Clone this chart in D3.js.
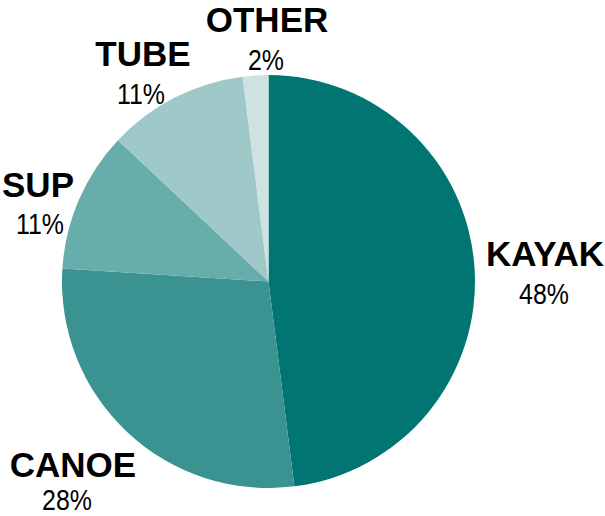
<!DOCTYPE html>
<html>
<head>
<meta charset="utf-8">
<script src="https://cdn.jsdelivr.net/npm/d3@7"></script>
<style>
  html, body { margin: 0; padding: 0; background: #fff; }
  svg { display: block; }
</style>
</head>
<body>
<svg></svg>
<script>
const width = 605
const height = 516

// data
const categories = ["KAYAK", "CANOE", "SUP", "TUBE", "OTHER"]
const shares = [48, 28, 11, 11, 2]
const colors = ["#007571", "#3a9391", "#67adab", "#9fc8c8", "#cde3e2"]

// label anchors (name baseline), percent line sits below
const labelAt = {
  KAYAK: { x: 545, y: 266, px: 544, py: 304 },
  CANOE: { x: 73, y: 477, px: 67, py: 510 },
  SUP: { x: 38, y: 197, px: 40, py: 234 },
  TUBE: { x: 143, y: 66, px: 141, py: 104 },
  OTHER: { x: 267, y: 32, px: 266, py: 70 }
}

const cx = 268.5, cy = 281.5, radius = 206.5
const narrow = 0.86

const svg = d3.select('svg')
  .attr('width', width)
  .attr('height', height)

const color = d3.scaleOrdinal().domain(categories).range(colors)

const pie = d3.pie().sort(null).value(d => d.value)
const arc = d3.arc().innerRadius(0).outerRadius(radius)

const data = categories.map((c, i) => ({ name: c, value: shares[i] }))

const g = svg.append("g").attr("transform", `translate(${cx},${cy})`)

g.selectAll("path")
  .data(pie(data))
  .enter()
  .append("path")
  .attr("d", arc)
  .attr("fill", d => color(d.data.name))

const labels = svg.append("g")
  .selectAll("g")
  .data(data)
  .enter()
  .append("g")

labels.append("text")
  .attr("x", d => labelAt[d.name].x)
  .attr("y", d => labelAt[d.name].y)
  .attr("text-anchor", "middle")
  .style("font-family", "'Liberation Sans', Arial, sans-serif")
  .style("font-weight", "bold")
  .style("font-size", "35px")
  .attr("fill", "#000")
  .text(d => d.name)

// condensed percent text (no narrow font installed, so squeeze horizontally)
labels.append("text")
  .attr("transform", d => `translate(${labelAt[d.name].px},${labelAt[d.name].py}) scale(${narrow},1)`)
  .attr("text-anchor", "middle")
  .style("font-family", "'Liberation Sans', Arial, sans-serif")
  .style("font-size", "29px")
  .attr("fill", "#000")
  .text(d => d.value + "%")
</script>
</body>
</html>
